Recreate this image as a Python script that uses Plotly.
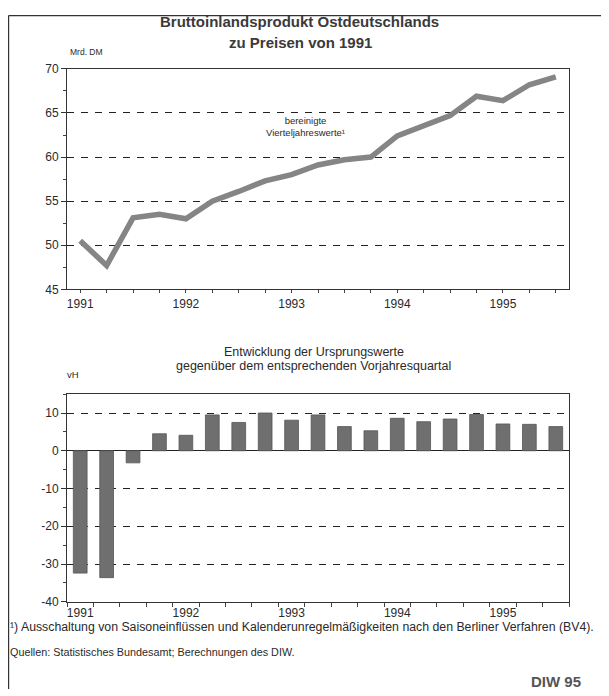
import plotly.graph_objects as go

# The page body has an 8px default margin, so the figure is drawn 8px smaller
# and all reference-pixel positions are shifted by that offset.
OFF = 8
W, H = 609 - OFF, 696 - OFF

quarters = list(range(19))  # 1991Q1 ... 1995Q3
year_labels = ["1991", "1992", "1993", "1994", "1995"]
year_pos = [0, 4, 8, 12, 16]

gdp_adjusted = [50.5, 47.7, 53.1, 53.5, 53.0, 55.0, 56.1, 57.3, 58.0, 59.1,
                59.7, 60.0, 62.4, 63.5, 64.7, 66.9, 66.4, 68.2, 69.1]
yoy_change = [-32.4, -33.6, -3.2, 4.5, 4.1, 9.5, 7.5, 10.0, 8.1, 9.5,
              6.4, 5.3, 8.6, 7.7, 8.4, 9.6, 7.1, 7.0, 6.4]

top_ticks = [45, 50, 55, 60, 65, 70]
top_tick_text = ["45", "50", "55", "60", "65", "70"]
bottom_ticks = [-40, -30, -20, -10, 0, 10]
bottom_tick_text = ["-40", "-30", "-20", "-10", "0", "10"]


def py(px):
    return 1 - (px - OFF) / H


def pxx(px):
    return (px - OFF) / W


FONT = "Liberation Sans, Arial, sans-serif"
TXT = "#2a2a2a"

fig = go.Figure()
fig.add_trace(go.Scatter(x=quarters, y=gdp_adjusted, mode="lines",
                         line=dict(color="#858585", width=5.5),
                         xaxis="x", yaxis="y", showlegend=False,
                         hoverinfo="skip"))
fig.add_trace(go.Bar(x=quarters, y=yoy_change, width=0.52,
                     marker=dict(color="#6f6f6f", line=dict(color="#555555", width=0.8)),
                     xaxis="x2", yaxis="y2", showlegend=False, hoverinfo="skip"))

xdom = [pxx(67), pxx(569)]
common_x = dict(range=[-0.5, 18.5], tickmode="array", tickvals=year_pos,
                ticktext=year_labels, showgrid=False, zeroline=False,
                showline=True, linecolor="#333333", linewidth=1, mirror=True,
                tickfont=dict(family=FONT, size=12, color=TXT),
                domain=xdom, fixedrange=True)
common_y = dict(showline=True, linecolor="#333333", linewidth=1, mirror=True,
                showgrid=True, gridcolor="#222222", gridwidth=1,
                griddash="7px,7px", ticks="outside", ticklen=5,
                tickcolor="#333333", tickmode="array",
                tickfont=dict(family=FONT, size=12, color=TXT),
                fixedrange=True)

fig.update_layout(
    width=W, height=H,
    margin=dict(l=0, r=0, t=0, b=0),
    paper_bgcolor="white", plot_bgcolor="white",
    xaxis=dict(**common_x, anchor="y", ticks="outside", ticklen=3,
               tickcolor="#444444",
               minor=dict(tickmode="linear", tick0=0, dtick=1, ticks="outside",
                          ticklen=3, tickcolor="#444444", showgrid=False)),
    yaxis=dict(**common_y, domain=[py(288), py(63)], range=[45, 70],
               tickvals=top_ticks, ticktext=top_tick_text, zeroline=False,
               minor=dict(tickmode="linear", tick0=45, dtick=2.5, ticks="outside",
                          ticklen=3, tickcolor="#444444", showgrid=False)),
    xaxis2=dict(**common_x, anchor="y2", ticks="",
                minor=dict(tickmode="linear", tick0=-0.5, dtick=1, ticks="outside",
                           ticklen=4, tickcolor="#444444", showgrid=False)),
    yaxis2=dict(**common_y, domain=[py(607), py(395)], range=[-40, 15],
                tickvals=bottom_ticks, ticktext=bottom_tick_text,
                zeroline=True, zerolinecolor="#222222", zerolinewidth=1.2,
                minor=dict(tickmode="linear", tick0=-40, dtick=5, ticks="outside",
                           ticklen=3, tickcolor="#444444", showgrid=False)),
    bargap=0.5,
)


def ann(text, x, y, size, bold=False, color=TXT, xanchor="center", align="center"):
    if bold:
        text = "<b>" + text + "</b>"
    fig.add_annotation(text=text, x=pxx(x), y=py(y), xref="paper", yref="paper",
                       showarrow=False, xanchor=xanchor, yanchor="middle",
                       align=align, font=dict(family=FONT, size=size, color=color))


ann("Bruttoinlandsprodukt Ostdeutschlands", 299, 15, 15, bold=True, color="#3a3a3a")
ann("zu Preisen von 1991", 300, 36, 15, bold=True, color="#3a3a3a")
ann("Mrd. DM", 68, 46, 8.5, xanchor="left")
ann("bereinigte<br>Vierteljahreswerte¹", 305, 122, 9.5)
ann("Entwicklung der Ursprungswerte", 314, 352, 12.5)
ann("gegenüber dem entsprechenden Vorjahresquartal", 313, 366, 12.5)
ann("vH", 65, 375, 9.5, xanchor="left")
ann("¹) Ausschaltung von Saisoneinflüssen und Kalenderunregelmäßigkeiten nach den Berliner Verfahren (BV4).",
    8, 633, 12.3, xanchor="left")
ann("Quellen: Statistisches Bundesamt; Berechnungen des DIW.", 8, 658, 10.8, xanchor="left")
ann("DIW 95", 583, 688, 15, bold=True, color="#555555", xanchor="right")

# outer frame lines (left and top)
fig.add_shape(type="line", xref="paper", yref="paper", x0=pxx(8.6), x1=pxx(8.6),
              y0=0, y1=py(8.6), line=dict(color="#333333", width=1.2))
fig.add_shape(type="line", xref="paper", yref="paper", x0=pxx(8.6), x1=1,
              y0=py(8.6), y1=py(8.6), line=dict(color="#333333", width=1.2))

fig.write_html("out.html")
